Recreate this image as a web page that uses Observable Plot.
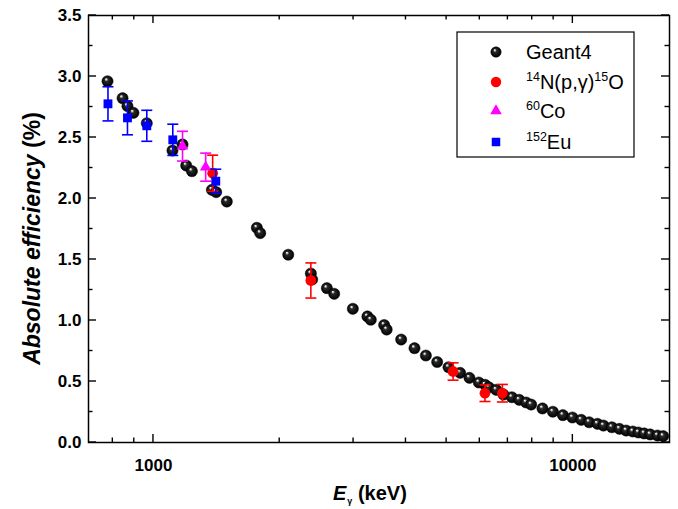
<!DOCTYPE html>
<html>
<head>
<meta charset="utf-8">
<script src="https://cdn.jsdelivr.net/npm/d3@7"></script>
<script src="https://cdn.jsdelivr.net/npm/@observablehq/plot@0.6"></script>
<style>
  html, body { margin: 0; padding: 0; background: #fff; }
  svg { display: block; }
</style>
</head>
<body>
<div id="chart"></div>
<script>
// ---- Data ----
const geantE = [777, 844, 867, 896, 964, 1110, 1173, 1197, 1235, 1378, 1411, 1496, 1764, 1797, 2096, 2373, 2390, 2591, 2697, 2988, 3237, 3298, 3549, 3598, 3896, 4192, 4462, 4747, 5052, 5386, 5668, 5968, 6178, 6305, 6563, 6832, 7154, 7447, 7739, 7954, 8464, 8961, 9467, 9977, 10467, 10936, 11446, 11830, 12388, 12914, 13400, 13902, 14335, 14791, 15287, 15913, 16420];
const geantEff = [2.961, 2.822, 2.757, 2.702, 2.617, 2.393, 2.443, 2.270, 2.224, 2.071, 2.052, 1.975, 1.760, 1.716, 1.539, 1.385, 1.336, 1.265, 1.219, 1.096, 1.033, 1.006, 0.963, 0.926, 0.844, 0.773, 0.713, 0.660, 0.617, 0.571, 0.530, 0.492, 0.473, 0.453, 0.432, 0.393, 0.371, 0.350, 0.328, 0.311, 0.279, 0.252, 0.224, 0.205, 0.186, 0.166, 0.153, 0.139, 0.125, 0.112, 0.098, 0.090, 0.082, 0.074, 0.066, 0.057, 0.052];

const nE   = [1384, 2373, 5181, 6172, 6791];
const nEff = [2.207, 1.328, 0.582, 0.404, 0.404];
const nErr = [0.148, 0.144, 0.071, 0.068, 0.072];

const coE   = [1173, 1332];
const coEff = [2.429, 2.257];
const coErr = [0.122, 0.115];

const euE   = [779, 867, 964, 1112, 1408];
const euEff = [2.776, 2.661, 2.596, 2.481, 2.142];
const euErr = [0.140, 0.139, 0.127, 0.128, 0.098];

const xDomain = [700, 17000];
const yDomain = [0, 3.5];
const xMajorTicks = [1000, 10000];
const xMinorTicks = [800, 900, 2000, 3000, 4000, 5000, 6000, 7000, 8000, 9000];
const yMajorTicks = [0, 0.5, 1.0, 1.5, 2.0, 2.5, 3.0, 3.5];
const yMinorTicks = [0.25, 0.75, 1.25, 1.75, 2.25, 2.75, 3.25];

const xTitle = ["E", "γ", " (keV)"];
const yTitle = ["Absolute efficiency", " (%)"];
const legendNames = ["Geant4", "14N(p,γ)15O", "60Co", "152Eu"];

// ---- Tables ----
const geant = geantE.map((e, i) => ({E: e, v: geantEff[i]}));
const mk = (E, V, Er) => E.map((e, i) => ({E: e, v: V[i], lo: V[i] - Er[i], hi: V[i] + Er[i]}));
const nRows = mk(nE, nEff, nErr);
const coRows = mk(coE, coEff, coErr);
const euRows = mk(euE, euEff, euErr);

const capSymbol = {
  draw(ctx, size) {
    const w = Math.sqrt(size / Math.PI);
    ctx.moveTo(-w, 0);
    ctx.lineTo(w, 0);
  }
};

const RED = "#ff0000", MAG = "#ff00ff", BLUE = "#0000ff";

function errMarks(rows, color) {
  return [
    Plot.ruleX(rows, {x: "E", y1: "lo", y2: "hi", stroke: color, strokeWidth: 1.6}),
    Plot.dot(rows, {x: "E", y: "lo", symbol: capSymbol, r: 5.5, fill: "none", stroke: color, strokeWidth: 1.6}),
    Plot.dot(rows, {x: "E", y: "hi", symbol: capSymbol, r: 5.5, fill: "none", stroke: color, strokeWidth: 1.6})
  ];
}

const svg = Plot.plot({
  width: 678,
  height: 509,
  marginLeft: 88,
  marginRight: 9,
  marginTop: 15,
  marginBottom: 67,
  x: {type: "log", domain: xDomain},
  y: {domain: yDomain},
  style: {
    fontFamily: "'Liberation Sans', Arial, sans-serif",
    fontSize: "17px",
    fontWeight: "bold",
    color: "#000",
    background: "#fff"
  },
  marks: [
    Plot.axisX(xMajorTicks, {anchor: "bottom", tickSize: 0, tickPadding: 16, tickFormat: d => String(d), label: null, fontSize: 17, fontWeight: "bold"}),
    Plot.axisY(yMajorTicks, {anchor: "left", tickSize: 0, tickPadding: 7, tickFormat: d => d.toFixed(1), label: null, fontSize: 17, fontWeight: "bold"}),
    Plot.dot(geant, {x: "E", y: "v", r: 5.6, fill: "url(#sphere)", stroke: "#000", strokeWidth: 0.5}),
    ...errMarks(nRows, RED),
    Plot.dot(nRows, {x: "E", y: "v", r: 5.4, fill: RED}),
    ...errMarks(coRows, MAG),
    Plot.dot(coRows, {x: "E", y: "v", symbol: "triangle", r: 4.3, fill: MAG}),
    ...errMarks(euRows, BLUE),
    Plot.dot(euRows, {x: "E", y: "v", symbol: "square", r: 5.0, fill: BLUE}),
    Plot.frame({stroke: "#000", strokeWidth: 1.5})
  ]
});

document.getElementById("chart").appendChild(svg);

// ---- Decorations using the plot's scales ----
const g = d3.select(svg);
g.insert("defs", ":first-child").html(
  `<radialGradient id="sphere" cx="50%" cy="50%" r="50%" fx="36%" fy="30%">
     <stop offset="0%" stop-color="#ffffff"/>
     <stop offset="12%" stop-color="#d0d0d0"/>
     <stop offset="32%" stop-color="#2a2a2a"/>
     <stop offset="100%" stop-color="#000000"/>
   </radialGradient>`
);

const sx = svg.scale("x"), sy = svg.scale("y");
const X0 = sx.apply(xDomain[0]), X1 = sx.apply(xDomain[1]);
const Y0 = sy.apply(yDomain[0]), Y1 = sy.apply(yDomain[1]);
const tg = g.append("g").attr("stroke", "#000").attr("stroke-width", 1.4).attr("fill", "none");
function xt(v, len) {
  const x = sx.apply(v);
  tg.append("line").attr("x1", x).attr("x2", x).attr("y1", Y0).attr("y2", Y0 - len);
  tg.append("line").attr("x1", x).attr("x2", x).attr("y1", Y1).attr("y2", Y1 + len);
}
function yt(v, len) {
  const y = sy.apply(v);
  tg.append("line").attr("y1", y).attr("y2", y).attr("x1", X0).attr("x2", X0 + len);
  tg.append("line").attr("y1", y).attr("y2", y).attr("x1", X1).attr("x2", X1 - len);
}
xMajorTicks.forEach(v => xt(v, 8));
xMinorTicks.forEach(v => xt(v, 4.5));
yMajorTicks.forEach(v => yt(v, 8));
yMinorTicks.forEach(v => yt(v, 4.5));

// Axis titles
const font = "'Liberation Sans', Arial, sans-serif";
const xt_ = g.append("text").attr("x", 333).attr("y", 500).attr("text-anchor", "start")
  .attr("font-family", font).attr("font-weight", "bold").attr("font-size", 20).attr("fill", "#000");
xt_.append("tspan").attr("font-style", "italic").text(xTitle[0]);
xt_.append("tspan").attr("font-size", 9).attr("dy", 4).attr("dx", 1).text(xTitle[1]);
xt_.append("tspan").attr("dy", -4).text(xTitle[2]);

const yt_ = g.append("text").attr("transform", `translate(40,${(Y0 + Y1) / 2 + 10}) rotate(-90)`)
  .attr("text-anchor", "middle")
  .attr("font-family", font).attr("font-weight", "bold").attr("font-size", 23).attr("fill", "#000");
yt_.append("tspan").attr("font-style", "italic").text(yTitle[0]);
yt_.append("tspan").text(yTitle[1]);

// Legend
const lg = g.append("g").attr("font-family", font).attr("font-size", 20).attr("font-weight", "normal")
  .attr("text-anchor", "start").attr("fill", "#000");
lg.append("rect").attr("x", 457).attr("y", 32).attr("width", 177).attr("height", 125)
  .attr("fill", "#fff").attr("stroke", "#000").attr("stroke-width", 1.2);
const mx = 496, tx = 526, rowsY = [52, 82, 111, 142];
lg.append("circle").attr("cx", mx).attr("cy", rowsY[0]).attr("r", 5.2).attr("fill", "url(#sphere)").attr("stroke", "#000").attr("stroke-width", 0.5);
lg.append("circle").attr("cx", mx).attr("cy", rowsY[1]).attr("r", 5.2).attr("fill", RED);
lg.append("path").attr("transform", `translate(${mx},${rowsY[2]})`).attr("d", d3.symbol(d3.symbolTriangle, Math.PI * 4.3 * 4.3)()).attr("fill", MAG);
lg.append("path").attr("transform", `translate(${mx},${rowsY[3]})`).attr("d", d3.symbol(d3.symbolSquare, Math.PI * 4.8 * 4.8)()).attr("fill", BLUE);

function legendText(y, parts) {
  const t = lg.append("text").attr("x", tx).attr("y", y + 7).attr("text-anchor", "start");
  let raised = false;
  for (const [s, sup] of parts) {
    const sp = t.append("tspan").text(s);
    if (sup) { sp.attr("font-size", 12.5); if (!raised) { sp.attr("dy", -8); raised = true; } }
    else if (raised) { sp.attr("dy", 8); raised = false; }
  }
}
legendText(rowsY[0], [[legendNames[0], false]]);
legendText(rowsY[1], [["14", true], ["N(p,γ)", false], ["15", true], ["O", false]]);
legendText(rowsY[2], [["60", true], ["Co", false]]);
legendText(rowsY[3], [["152", true], ["Eu", false]]);
</script>
</body>
</html>
